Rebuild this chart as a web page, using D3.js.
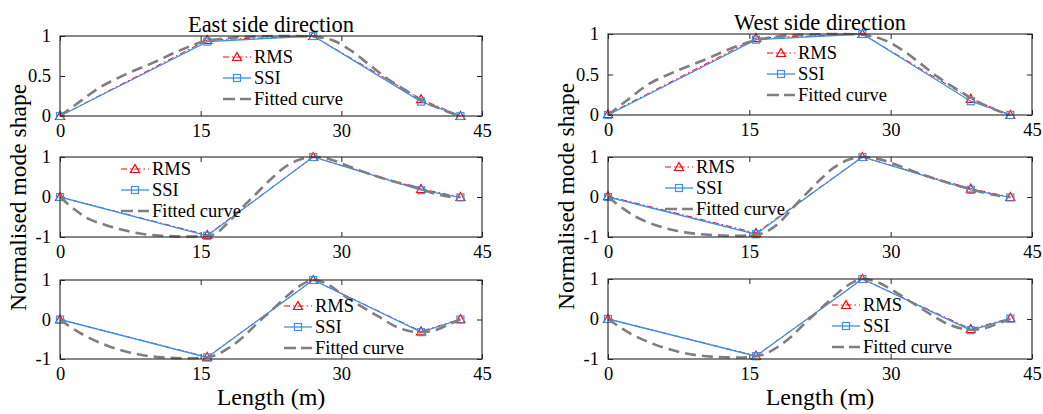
<!DOCTYPE html>
<html>
<head>
<meta charset="utf-8">
<script src="https://cdn.jsdelivr.net/npm/d3@7"></script>
<style>
  body { margin: 0; background: #fff; }
  svg text { font-family: "Liberation Serif", "DejaVu Serif", serif; fill: #000; }
</style>
</head>
<body>
<svg id="chart" width="1043" height="414"></svg>
<script>
// measured positions along the span (m)
const xPts = [0, 15.7, 27, 38.5, 42.7];
const xTicks = [0, 15, 30, 45];
const yTicksTop = [0, 0.5, 1];
const yTicksMid = [-1, 0, 1];

// East side, mode 1..3
const rmsE1 = [0, 0.95, 1, 0.21, 0];
const ssiE1 = [0, 0.93, 1, 0.18, 0];
const rmsE2 = [0, -0.95, 1, 0.2, 0];
const ssiE2 = [0, -0.97, 1, 0.17, -0.01];
const rmsE3 = [0, -0.95, 1, -0.3, 0.01];
const ssiE3 = [0, -0.96, 1, -0.32, 0];
// West side, mode 1..3
const rmsW1 = [0.01, 0.95, 1, 0.2, 0];
const ssiW1 = [0, 0.93, 1, 0.17, 0];
const rmsW2 = [0.02, -0.9, 1, 0.21, 0];
const ssiW2 = [0, -0.93, 1, 0.18, -0.01];
const rmsW3 = [0, -0.92, 1, -0.25, 0.02];
const ssiW3 = [0, -0.93, 1, -0.28, 0.01];

// fitted curves
const fitX1 = [0, 2, 4.3, 7, 10, 12.8, 15.3, 18, 21, 24, 27, 29, 31, 33, 35, 37, 39, 41, 42.7];
const fitE1 = [0, 0.17, 0.36, 0.52, 0.67, 0.82, 0.93, 0.975, 0.995, 1.0, 0.99, 0.95, 0.82, 0.64, 0.46, 0.31, 0.17, 0.07, 0];
const fitW1 = [0, 0.18, 0.38, 0.53, 0.67, 0.81, 0.91, 0.97, 0.99, 1.0, 0.99, 0.94, 0.82, 0.65, 0.47, 0.32, 0.18, 0.07, 0];
const fitX2 = [0, 1.5, 3, 5, 7, 9, 11, 13, 15, 16.5, 18, 19.5, 21, 22.5, 24, 25.5, 27, 28.5, 30, 32, 34, 36, 38, 40, 41.5, 42.7];
const fitE2 = [0, -0.3, -0.54, -0.71, -0.84, -0.93, -0.97, -0.99, -0.98, -0.93, -0.62, -0.25, 0.1, 0.45, 0.75, 0.93, 1.0, 0.96, 0.84, 0.66, 0.5, 0.36, 0.24, 0.08, 0.01, 0];
const fitW2 = [0, -0.27, -0.5, -0.7, -0.83, -0.91, -0.95, -0.97, -0.96, -0.9, -0.68, -0.3, 0.07, 0.43, 0.74, 0.93, 1.0, 0.96, 0.86, 0.68, 0.51, 0.36, 0.23, 0.1, 0.03, 0];
const fitE3 = [0, -0.25, -0.45, -0.66, -0.81, -0.91, -0.96, -0.98, -0.97, -0.91, -0.72, -0.45, -0.1, 0.22, 0.55, 0.84, 1.0, 0.9, 0.65, 0.35, 0.07, -0.2, -0.32, -0.27, -0.12, 0];
const fitW3 = [0, -0.24, -0.44, -0.64, -0.79, -0.89, -0.94, -0.96, -0.95, -0.89, -0.7, -0.43, -0.08, 0.24, 0.57, 0.85, 1.0, 0.93, 0.75, 0.45, 0.15, -0.12, -0.26, -0.23, -0.1, 0];

const titles = ["East side direction", "West side direction"];
const legendLabels = ["RMS", "SSI", "Fitted curve"];

const red = "#ff0000", blue = "#3d8fea", grey = "#7f7f7f", axisCol = "#262626";
const serif = '"Liberation Serif", "DejaVu Serif", serif';

const svg = d3.select("#chart");

// layout of each subplot
const panels = [
  { col: 0, left: 60, right: 482, top: 36, bottom: 116, dom: [0, 1], ticks: yTicksTop, rms: rmsE1, ssi: ssiE1, fx: fitX1, fy: fitE1, leg: [223, 57] },
  { col: 0, left: 60, right: 482, top: 157, bottom: 237, dom: [-1, 1], ticks: yTicksMid, rms: rmsE2, ssi: ssiE2, fx: fitX2, fy: fitE2, leg: [121, 169] },
  { col: 0, left: 60, right: 482, top: 280, bottom: 359, dom: [-1, 1], ticks: yTicksMid, rms: rmsE3, ssi: ssiE3, fx: fitX2, fy: fitE3, leg: [284, 306] },
  { col: 1, left: 608, right: 1032, top: 34, bottom: 115, dom: [0, 1], ticks: yTicksTop, rms: rmsW1, ssi: ssiW1, fx: fitX1, fy: fitW1, leg: [767, 53] },
  { col: 1, left: 608, right: 1032, top: 157, bottom: 237, dom: [-1, 1], ticks: yTicksMid, rms: rmsW2, ssi: ssiW2, fx: fitX2, fy: fitW2, leg: [665, 167] },
  { col: 1, left: 608, right: 1032, top: 279, bottom: 359, dom: [-1, 1], ticks: yTicksMid, rms: rmsW3, ssi: ssiW3, fx: fitX2, fy: fitW3, leg: [832, 305] },
];

function triangle(g, x, y) {
  g.append("path")
    .attr("d", `M${x},${y - 4.5}L${x + 4.5},${y + 3.5}L${x - 4.5},${y + 3.5}Z`)
    .attr("fill", "none").attr("stroke", red).attr("stroke-width", 1.2);
}
function square(g, x, y) {
  g.append("rect")
    .attr("x", x - 3.5).attr("y", y - 3.5).attr("width", 7).attr("height", 7)
    .attr("fill", "none").attr("stroke", blue).attr("stroke-width", 1.2);
}

panels.forEach(p => {
  const x = d3.scaleLinear().domain([0, 45]).range([p.left, p.right]);
  const y = d3.scaleLinear().domain(p.dom).range([p.bottom, p.top]);
  const g = svg.append("g");

  // axes, MATLAB style: ticks inside, mirrored
  const tk = 5;
  g.append("g").attr("transform", `translate(0,${p.bottom})`)
    .call(d3.axisBottom(x).tickValues(xTicks).tickSizeInner(-tk).tickSizeOuter(0).tickPadding(8).tickFormat(d => String(d)))
    .attr("font-family", serif).attr("font-size", 18.5)
    .call(a => a.select(".domain").remove())
    .call(a => a.selectAll("line").attr("stroke", axisCol))
    .call(a => a.selectAll("text").style("font-family", serif).attr("fill", "#000"));
  g.append("g").attr("transform", `translate(0,${p.top})`)
    .call(d3.axisTop(x).tickValues(xTicks).tickSizeInner(-tk).tickSizeOuter(0).tickFormat(""))
    .call(a => a.select(".domain").remove())
    .call(a => a.selectAll("line").attr("stroke", axisCol));
  g.append("g").attr("transform", `translate(${p.left},0)`)
    .call(d3.axisLeft(y).tickValues(p.ticks).tickSizeInner(-tk).tickSizeOuter(0).tickPadding(9).tickFormat(d => String(d)))
    .attr("font-family", serif).attr("font-size", 18.5)
    .call(a => a.select(".domain").remove())
    .call(a => a.selectAll("line").attr("stroke", axisCol))
    .call(a => a.selectAll("text").style("font-family", serif).attr("fill", "#000"));
  g.append("g").attr("transform", `translate(${p.right},0)`)
    .call(d3.axisRight(y).tickValues(p.ticks).tickSizeInner(-tk).tickSizeOuter(0).tickFormat(""))
    .call(a => a.select(".domain").remove())
    .call(a => a.selectAll("line").attr("stroke", axisCol));

  const line = d3.line().x(d => x(d[0])).y(d => y(d[1]));
  const rmsData = xPts.map((v, i) => [v, p.rms[i]]);
  const ssiData = xPts.map((v, i) => [v, p.ssi[i]]);
  const fitData = p.fx.map((v, i) => [v, p.fy[i]]);

  g.append("path").attr("d", line(rmsData)).attr("fill", "none")
    .attr("stroke", red).attr("stroke-width", 1).attr("stroke-dasharray", "6,3,1.5,3");
  rmsData.forEach(d => triangle(g, x(d[0]), y(d[1])));
  g.append("path").attr("d", line(ssiData)).attr("fill", "none")
    .attr("stroke", blue).attr("stroke-width", 1.3);
  ssiData.forEach(d => square(g, x(d[0]), y(d[1])));
  g.append("path").attr("d", line.curve(d3.curveCatmullRom)(fitData)).attr("fill", "none")
    .attr("stroke", grey).attr("stroke-width", 2.6).attr("stroke-dasharray", "11,6");

  // box
  g.append("rect").attr("x", p.left).attr("y", p.top)
    .attr("width", p.right - p.left).attr("height", p.bottom - p.top)
    .attr("fill", "none").attr("stroke", axisCol).attr("stroke-width", 1.1);

  // legend (no frame)
  const lx = p.leg[0], ly = p.leg[1], step = 21, len = 28;
  const lg = g.append("g");
  legendLabels.forEach((lab, i) => {
    const yy = ly + i * step;
    const seg = lg.append("line").attr("x1", lx).attr("x2", lx + len).attr("y1", yy).attr("y2", yy).attr("fill", "none");
    if (i === 0) {
      seg.attr("stroke", red).attr("stroke-width", 1).attr("stroke-dasharray", "6,3,1.5,3");
      triangle(lg, lx + len / 2, yy);
    } else if (i === 1) {
      seg.attr("stroke", blue).attr("stroke-width", 1.3);
      square(lg, lx + len / 2, yy);
    } else {
      seg.attr("stroke", grey).attr("stroke-width", 2.6).attr("stroke-dasharray", "12,5");
    }
    lg.append("text").attr("x", lx + len + 3).attr("y", yy).attr("dy", "0.35em")
      .style("font-family", serif).attr("font-size", 18.5).text(lab);
  });
});

// titles and axis labels per column
[0, 1].forEach(c => {
  const ps = panels.filter(p => p.col === c);
  const cx = (ps[0].left + ps[0].right) / 2;
  svg.append("text").attr("x", cx).attr("y", ps[0].top - 4)
    .attr("text-anchor", "middle").style("font-family", serif).attr("font-size", 22.5).text(titles[c]);
  svg.append("text").attr("x", cx).attr("y", 405)
    .attr("text-anchor", "middle").style("font-family", serif).attr("font-size", 24).text("Length (m)");
  const cy = (ps[0].top + ps[2].bottom) / 2;
  const yx = ps[0].left - 34;
  svg.append("text").attr("transform", `translate(${yx},${cy}) rotate(-90)`)
    .attr("text-anchor", "middle").style("font-family", serif).attr("font-size", 23.5).text("Normalised mode shape");
});
</script>
</body>
</html>
